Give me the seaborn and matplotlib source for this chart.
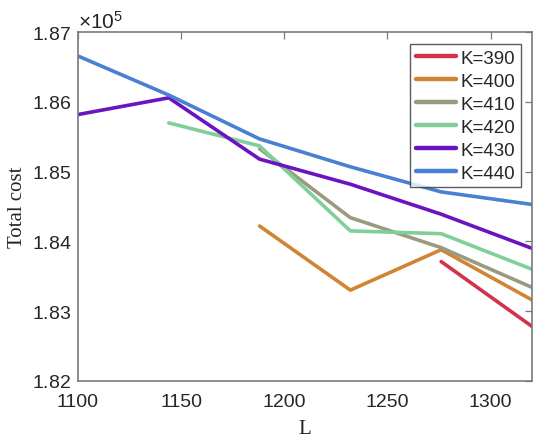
import matplotlib
matplotlib.use("Agg")
import matplotlib.pyplot as plt
import matplotlib.ticker as mticker
import seaborn as sns
import pandas as pd

# Route length L and total cost for each fleet size K
L_values = [1100, 1144, 1188, 1232, 1276, 1320]
k_labels = ["K=390", "K=400", "K=410", "K=420", "K=430", "K=440"]

cost_k390 = [None, None, None, None, 183710, 182780]
cost_k400 = [None, None, 184220, 183300, 183880, 183160]
cost_k410 = [None, None, 185330, 184340, 183910, 183340]
cost_k420 = [None, 185700, 185370, 184150, 184110, 183600]
cost_k430 = [185820, 186060, 185180, 184820, 184390, 183900]
cost_k440 = [186660, 186100, 185470, 185070, 184710, 184530]

line_colors = ["#D0334B", "#D08535", "#9A9A80", "#80CF9A", "#6A14C0", "#4A80D4"]

series = [cost_k390, cost_k400, cost_k410, cost_k420, cost_k430, cost_k440]
rows = []
for label, values in zip(k_labels, series):
    for L, c in zip(L_values, values):
        if c is not None:
            rows.append({"L": L, "cost": c, "K": label})
df = pd.DataFrame(rows)

sns.set_style("white")
plt.rcParams["font.family"] = ["Liberation Sans", "DejaVu Sans"]
plt.rcParams["mathtext.fontset"] = "custom"
plt.rcParams["mathtext.rm"] = "Liberation Sans"

fig = plt.figure(figsize=(5.33, 4.39), dpi=100)
ax = fig.add_axes([0.1463, 0.1305, 0.8517, 0.7936])

sns.lineplot(data=df, x="L", y="cost", hue="K", hue_order=k_labels,
             palette=line_colors, linewidth=2.6, ax=ax, legend=False,
             estimator=None, sort=False)

ax.set_xlim(1100, 1320)
ax.set_ylim(182000, 187000)
ax.set_xticks([1100, 1150, 1200, 1250, 1300])
ax.set_yticks([182000, 183000, 184000, 185000, 186000, 187000])

fmt = mticker.ScalarFormatter(useMathText=True)
fmt.set_powerlimits((0, 0))
ax.yaxis.set_major_formatter(fmt)
ax.yaxis.get_offset_text().set_fontsize(15)

axis_gray = "#7a7a7a"
for sp in ax.spines.values():
    sp.set_color(axis_gray)
    sp.set_linewidth(1.2)
ax.tick_params(direction="in", length=5, width=0.9, color=axis_gray,
               labelsize=14, labelcolor="#262626", top=True, right=True)
ax.tick_params(axis="x", pad=9)
ax.tick_params(axis="y", pad=5)

ax.set_xlabel("L", fontsize=15, family="Liberation Serif", color="#262626", labelpad=6)
ax.set_ylabel("Total cost", fontsize=15, family="Liberation Serif", color="#262626", labelpad=3)

handles = [plt.Line2D([], [], color=c, linewidth=3.2) for c in line_colors]
leg = ax.legend(handles, k_labels, loc="upper right", fontsize=13.5,
                frameon=True, fancybox=False, edgecolor="#333333",
                handlelength=2.15, handletextpad=0.25, labelspacing=0.31,
                borderpad=0.3, borderaxespad=0.0,
                bbox_to_anchor=(0.976, 0.966))
leg.get_frame().set_linewidth(1.0)

fig.savefig("out.png", dpi=100)
